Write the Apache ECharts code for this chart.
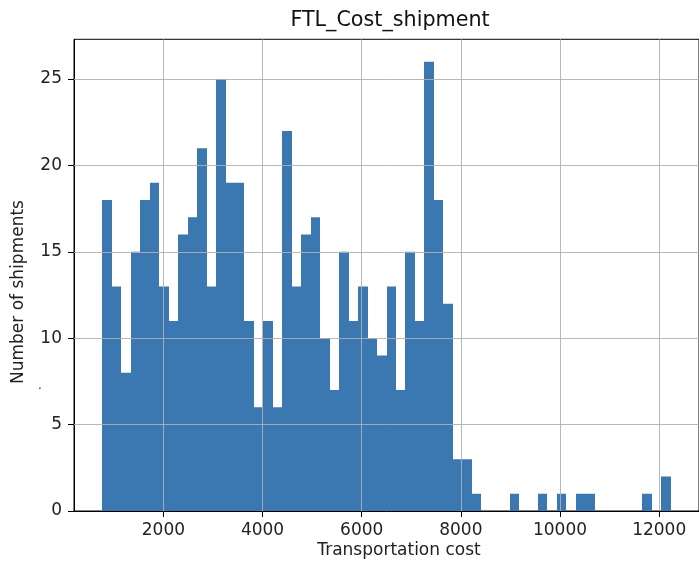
<!DOCTYPE html>
<html><head><meta charset="utf-8">
<script src="https://cdn.jsdelivr.net/npm/echarts@6/dist/echarts.min.js"></script>
<style>html,body{margin:0;padding:0;background:#fff}#c{width:699px;height:563px}</style>
</head><body><div id="c"></div>
<script>
// ---- data (60 bins) ----
const binStart = 770;
const binWidth = 191;
const counts = [18,13,8,15,18,19,13,11,16,17,
                21,13,25,19,19,11,6,11,6,22,
                13,16,17,10,7,15,11,13,10,9,
                13,7,15,11,26,18,12,3,3,1,
                0,0,0,1,0,0,1,0,1,0,
                1,1,0,0,0,0,0,1,0,2];
const xTicks = [2000,4000,6000,8000,10000,12000];
const yTicks = [0,5,10,15,20,25];
const titleText = 'FTL_Cost_shipment';
const xLabel = 'Transportation cost';
const yLabel = 'Number of shipments';

const bins = counts.map((c,i)=>[binStart+i*binWidth, binStart+(i+1)*binWidth, c]);
const lo = binStart, hi = binStart + counts.length*binWidth;
const xMin = lo - 0.05*(hi-lo), xMax = hi + 0.05*(hi-lo);
const yMax = Math.max(...counts)*1.05;

const FONT = 'DejaVu Sans';
const GRID = '#b0b0b0';
const BAR = '#3b77b0';
const plain = v => String(v);
const chart = echarts.init(document.getElementById('c'), null, {renderer:'canvas'});
chart.setOption({
  animation:false,
  backgroundColor:'#fff',
  grid:{left:74, right:-6, top:39.3, bottom:52, show:true, borderColor:'#000', borderWidth:1, backgroundColor:'transparent'},
  xAxis:{type:'value', min:xMin, max:xMax,
    axisLine:{show:true, onZero:false, lineStyle:{color:'#000', width:1}},
    axisTick:{show:true, length:6, customValues:xTicks, lineStyle:{color:'#000', width:1}},
    axisLabel:{customValues:xTicks, formatter:plain, margin:11, fontSize:17, color:'#222', fontFamily:FONT},
    splitLine:{show:false}},
  yAxis:{type:'value', min:0, max:yMax,
    axisLine:{show:true, lineStyle:{color:'#000', width:1}},
    axisTick:{show:true, length:6, customValues:yTicks, lineStyle:{color:'#000', width:1}},
    axisLabel:{customValues:yTicks, formatter:plain, margin:12, fontSize:17, color:'#222', fontFamily:FONT},
    splitLine:{show:false}},
  graphic:[
    {type:'text', x:390, y:20.5, style:{text:titleText, font:'20.7px "DejaVu Sans"', fill:'#111', align:'center', verticalAlign:'middle'}},
    {type:'text', x:399, y:550.5, style:{text:xLabel, font:'17px "DejaVu Sans"', fill:'#222', align:'center', verticalAlign:'middle'}},
    {type:'text', x:19, y:292, rotation:Math.PI/2, style:{text:yLabel, font:'17px "DejaVu Sans"', fill:'#222', align:'center', verticalAlign:'middle'}},
    {type:'text', x:40, y:392, style:{text:'.', font:'12px "DejaVu Sans"', fill:'#222', align:'center', verticalAlign:'bottom'}}
  ],
  series:[
    {type:'custom', z:2, clip:true,
      encode:{x:[0,1], y:2},
      data:bins,
      renderItem:function(params, api){
        if (!(api.value(2) > 0)) return null;
        const p0 = api.coord([api.value(0), api.value(2)]);
        const p1 = api.coord([api.value(1), 0]);
        const x0 = Math.round(p0[0]), x1 = Math.round(p1[0]);
        return {type:'rect', shape:{x:x0, y:p0[1], width:x1-x0, height:p1[1]-p0[1]},
                style:{fill:BAR}};
      }},
    {type:'line', z:3, data:[], silent:true,
      markLine:{silent:true, symbol:['none','none'], label:{show:false}, animation:false,
        lineStyle:{color:GRID, width:1, type:'solid', opacity:0.9},
        data: xTicks.map(v=>({xAxis:v})).concat(yTicks.filter(v=>v>0).map(v=>({yAxis:v})))}}
  ]
});
</script></body></html>
